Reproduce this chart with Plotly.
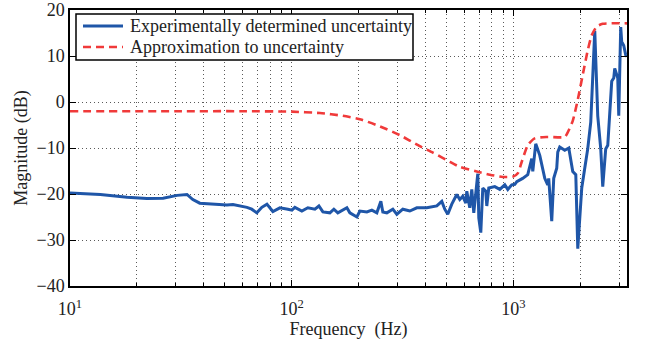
import plotly.graph_objects as go

# Measured uncertainty magnitude (frequency in Hz, magnitude in dB)
meas_freq = [10, 13.7, 18.1, 22.2, 26.3, 30.4, 33.7, 35.8, 38.5, 45.9, 51, 54.3, 58.4, 62.8,
             66, 69.6, 73.3, 77.3, 82.2, 88.4, 96.1, 100.2, 103.3, 111.1, 118.2, 127.2,
             132.6, 138.2, 148.6, 154.9, 161.4, 177.3, 182.9, 196.7, 202.9, 218.2, 229.8,
             242, 252.3, 257.5, 268.5, 285.7, 297.8, 317, 340.9, 366.5, 406.6, 451, 475.1,
             490.1, 505.5, 527, 555, 572.7, 590.9, 609.5, 615.9, 635.3, 648.6, 662.2,
             690.4, 697.6, 712.2, 727.1, 750.1, 757.9, 773.8, 823.6, 867.6, 913.8, 942.6,
             982.6, 1014, 1035, 1100, 1160, 1209, 1222, 1260, 1314, 1384, 1427, 1442, 1488,
             1519, 1567, 1584, 1617, 1703, 1776, 1851, 1910, 1950, 2032, 2096, 2162, 2231,
             2326, 2399, 2475, 2527, 2606, 2662, 2774, 2833, 2862, 2953, 2984, 3046, 3077,
             3142, 3208, 3251]
meas_mag = [-19.8, -20.1, -20.7, -21.0, -20.9, -20.3, -20.1, -21.2, -22.0, -22.3, -22.4,
            -22.3, -22.6, -22.9, -23.3, -24.1, -22.9, -22.2, -23.8, -23.0, -23.3, -23.5,
            -22.9, -23.7, -23.0, -23.3, -22.6, -23.9, -24.1, -23.3, -24.1, -23.0, -24.1,
            -25.0, -23.7, -23.9, -23.5, -24.1, -21.6, -23.9, -24.1, -23.3, -24.4, -23.3,
            -23.7, -23.0, -23.0, -22.6, -21.6, -23.3, -24.4, -22.2, -20.1, -21.2, -20.5,
            -22.0, -19.4, -23.0, -19.0, -24.1, -15.6, -25.2, -28.4, -18.7, -19.4, -22.6,
            -18.7, -18.4, -19.0, -18.0, -19.0, -18.0, -17.9, -17.3, -16.6, -15.8, -12.3,
            -15.1, -9.1, -11.6, -16.6, -18.0, -16.6, -25.9, -16.6, -14.4, -10.9, -9.8,
            -10.5, -10.0, -15.1, -15.8, -31.9, -18.7, -14.4, -10.2, -4.4, 15.5, -3.0,
            -10.2, -18.4, -10.2, -9.4, 4.5, 5.2, 7.3, 5.2, -3.0, 16.3, 13.1, 12.3, 10.2, 9.9]

# Approximating uncertainty weight
approx_freq = [10, 30, 60, 100, 134, 170, 205, 250, 307, 378, 433, 516, 573, 683, 782, 895,
               997, 1046, 1090, 1160, 1247, 1427, 1703, 1757, 1851, 1950, 2053, 2162, 2254,
               2374, 2527, 3251]
approx_mag = [-2.0, -2.0, -2.0, -2.1, -2.4, -3.0, -3.8, -5.3, -7.2, -9.6, -11.0, -13.0,
              -14.1, -15.1, -15.8, -16.3, -16.2, -15.5, -13.0, -9.4, -7.9, -7.6, -7.6, -6.6,
              -4.1, 0.5, 5.9, 11.2, 14.5, 16.4, 17.0, 17.1]

series_names = ["Experimentally determined uncertainty", "Approximation to uncertainty"]

major_x = [10, 100, 1000]
major_x_text = ["10<sup>1</sup>", "10<sup>2</sup>", "10<sup>3</sup>"]
minor_x = [20, 30, 40, 50, 60, 70, 80, 90, 200, 300, 400, 500, 600, 700, 800, 900, 2000, 3000]
y_ticks = [-40, -30, -20, -10, 0, 10, 20]

FONT = "Liberation Serif"
TEXT_COLOR = "#222222"
GRID = dict(gridcolor="#5a5a5a", gridwidth=1, griddash="1px,3px")

blue_line = dict(color="#1f56a8", width=3)
red_line = dict(color="#f03a3a", width=2.6, dash="8px,5px")

fig = go.Figure()
fig.add_trace(go.Scatter(
    x=meas_freq, y=meas_mag, mode="lines", name=series_names[0],
    line=blue_line, showlegend=False,
))
fig.add_trace(go.Scatter(
    x=approx_freq, y=approx_mag, mode="lines", name=series_names[1],
    line=dict(**red_line, shape="spline", smoothing=0.6), showlegend=False,
))

# Boxed legend in the upper-left corner of the axes
W, H = 557.0, 276.0  # plot-area size in px
def px_x(p):
    return p / W
def px_y(p):
    return 1 - p / H

box_l, box_r, box_t, box_b = 6, 343, 4, 50
fig.add_shape(type="rect", xref="x domain", yref="y domain",
              x0=px_x(box_l), x1=px_x(box_r), y0=px_y(box_b), y1=px_y(box_t),
              line=dict(color="black", width=1.5), fillcolor="white", layer="above")
row_y = [16, 37]
for name, style, ry in zip(series_names, [blue_line, red_line], row_y):
    fig.add_shape(type="line", xref="x domain", yref="y domain",
                  x0=px_x(13), x1=px_x(53), y0=px_y(ry), y1=px_y(ry),
                  line=style, layer="above")
    fig.add_annotation(xref="x domain", yref="y domain", x=px_x(58), y=px_y(ry),
                       text=name, showarrow=False, xanchor="left", yanchor="middle",
                       font=dict(family=FONT, size=18, color=TEXT_COLOR))

fig.update_layout(
    width=647, height=340,
    margin=dict(l=70, r=20, t=10, b=54, autoexpand=False),
    paper_bgcolor="white", plot_bgcolor="white",
    font=dict(family=FONT, size=18, color=TEXT_COLOR),
    showlegend=False,
)

fig.update_xaxes(
    type="log", range=[1, 3.512], automargin=False,
    tickmode="array", tickvals=major_x, ticktext=major_x_text,
    ticks="inside", ticklen=6, tickwidth=1, tickcolor="black",
    showline=True, linecolor="black", linewidth=1.5, mirror="ticks",
    showgrid=True, **GRID,
    minor=dict(tickmode="array", tickvals=minor_x, ticks="inside", ticklen=3,
               tickcolor="black", showgrid=True, **GRID),
    tickfont=dict(family=FONT, size=18, color=TEXT_COLOR),
    ticklabelstandoff=6, ticklabeloverflow="allow",
    title=dict(text="Frequency  (Hz)", font=dict(family=FONT, size=18, color=TEXT_COLOR),
               standoff=2),
    zeroline=False,
)
fig.update_yaxes(
    range=[-40, 20], automargin=False, tickmode="array", tickvals=y_ticks,
    ticks="inside", ticklen=6, tickwidth=1, tickcolor="black",
    showline=True, linecolor="black", linewidth=1.5, mirror="ticks",
    showgrid=True, **GRID,
    tickfont=dict(family=FONT, size=18, color=TEXT_COLOR),
    ticklabeloverflow="allow",
    title=dict(text="Magnitude (dB)", font=dict(family=FONT, size=18, color=TEXT_COLOR),
               standoff=4),
    zeroline=False,
)

fig.write_html("out.html")
